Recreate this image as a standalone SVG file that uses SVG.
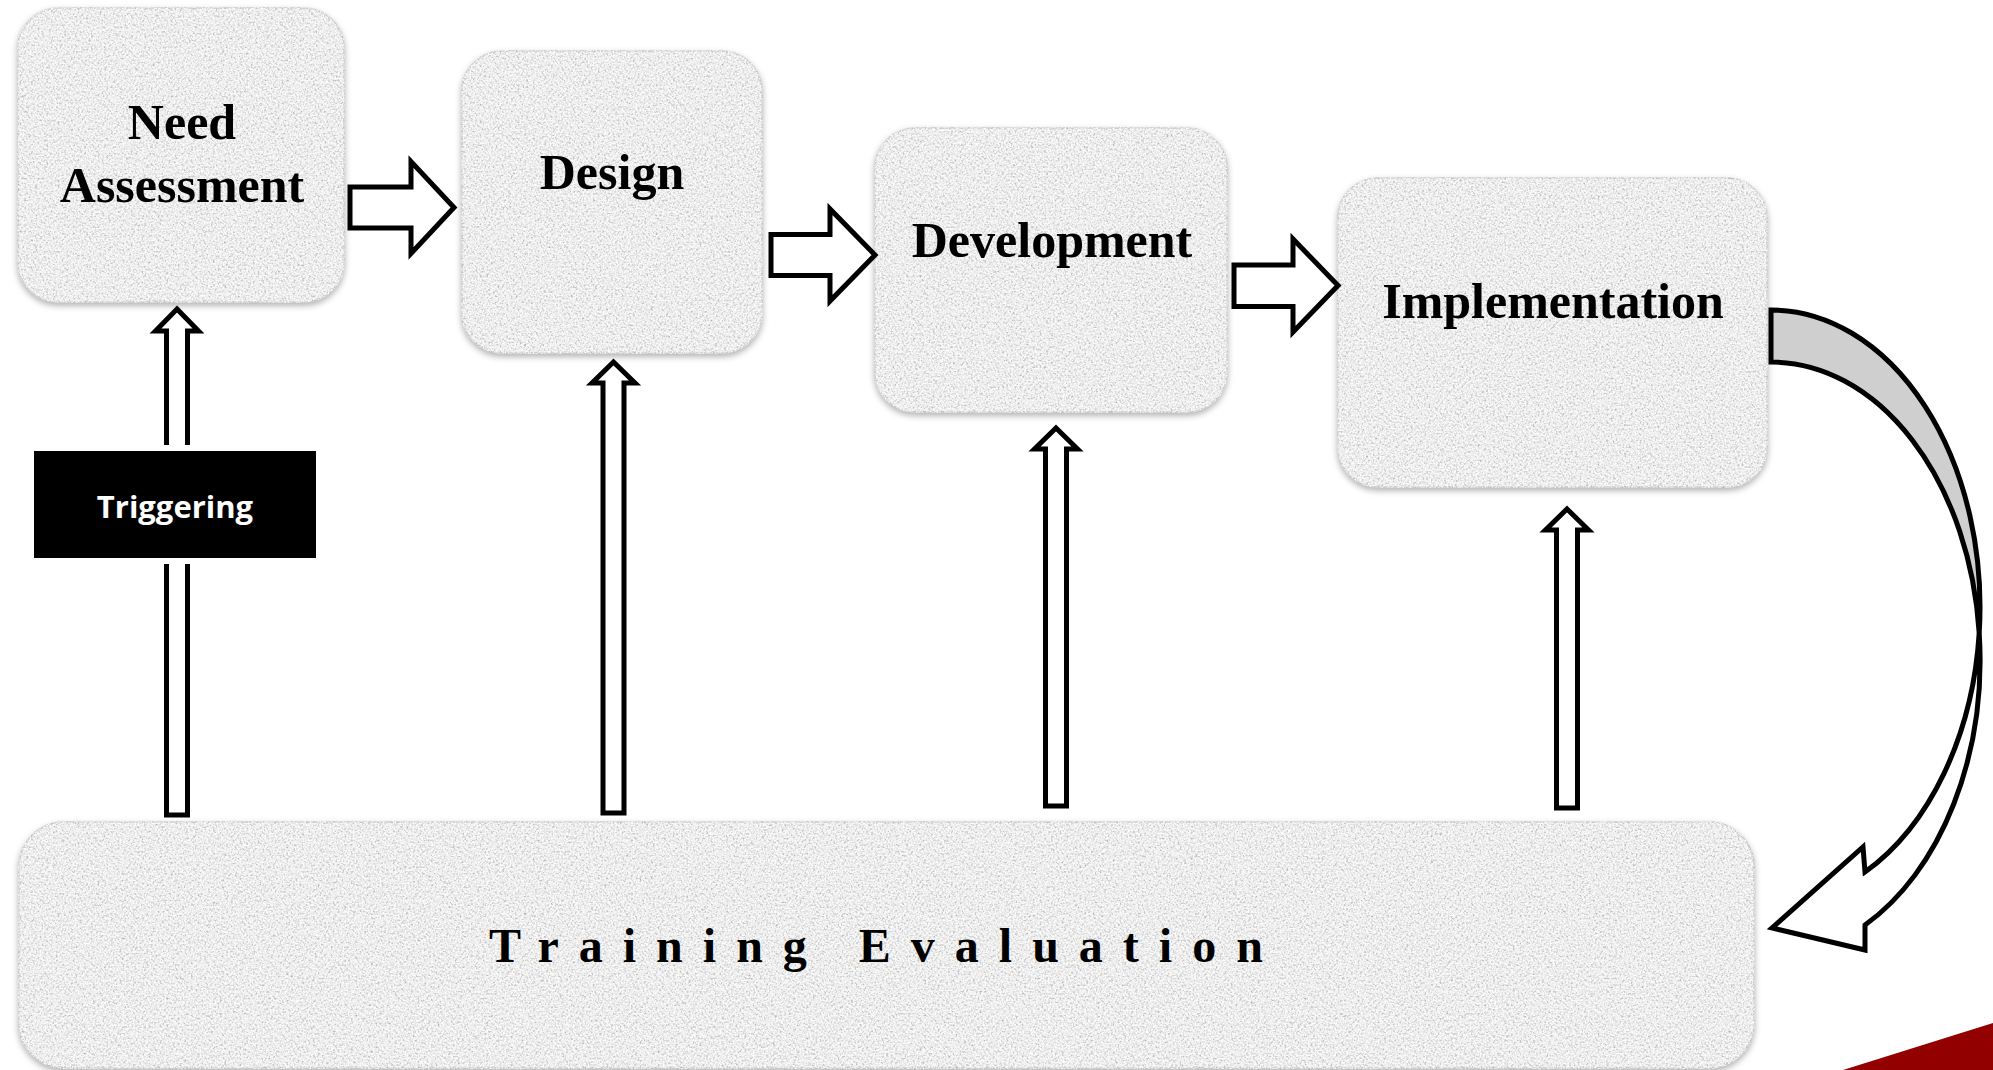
<svg xmlns="http://www.w3.org/2000/svg" width="1993" height="1070" viewBox="0 0 1993 1070">
<defs>
  <filter id="card" x="-3%" y="-3%" width="106%" height="112%" color-interpolation-filters="sRGB">
    <feGaussianBlur in="SourceAlpha" stdDeviation="3" result="b"/>
    <feOffset in="b" dx="0" dy="3" result="ob"/>
    <feFlood flood-color="#000" flood-opacity="0.3" result="f"/>
    <feComposite in="f" in2="ob" operator="in" result="shadow"/>
    <feTurbulence type="fractalNoise" baseFrequency="0.45" numOctaves="2" seed="7" result="n"/>
    <feColorMatrix in="n" type="matrix" values="0 0 0 0 0.7  0 0 0 0 0.7  0 0 0 0 0.7  2.4 0 0 0 -1.05" result="g"/>
    <feComposite in="g" in2="SourceAlpha" operator="in" result="t"/>
    <feTurbulence type="fractalNoise" baseFrequency="0.6" numOctaves="1" seed="21" result="n2"/>
    <feColorMatrix in="n2" type="matrix" values="0 0 0 0 1  0 0 0 0 1  0 0 0 0 1  3 0 0 0 -1.2" result="w"/>
    <feComposite in="w" in2="SourceAlpha" operator="in" result="tw"/>
    <feMerge><feMergeNode in="shadow"/><feMergeNode in="SourceGraphic"/><feMergeNode in="t"/><feMergeNode in="tw"/></feMerge>
  </filter>
</defs>
<style>
  .box { fill:#eeeeee; stroke:#d2d2d2; stroke-width:1.5; filter:url(#card); }
  .lbl { font-family:"Liberation Serif","Times New Roman",serif; font-weight:bold; font-size:50px; fill:#000; text-anchor:middle; }
  .conn { fill:#fff; stroke:#000; stroke-width:5; stroke-linejoin:miter; }
  .back { fill:#cfcfcf; stroke:#000; stroke-width:5; stroke-linejoin:miter; }
</style>
<rect width="1993" height="1070" fill="#fff"/>

<g id="need-assessment">
  <rect class="box" x="18" y="8" width="326" height="294" rx="40"/>
  <text class="lbl" x="182" y="139">Need</text>
  <text class="lbl" x="182" y="202">Assessment</text>
</g>
<g id="design">
  <rect class="box" x="462" y="51" width="300" height="302" rx="40"/>
  <text class="lbl" x="612" y="189">Design</text>
</g>
<g id="development">
  <rect class="box" x="875" y="128" width="352" height="284" rx="40"/>
  <text class="lbl" x="1052" y="257">Development</text>
</g>
<g id="implementation">
  <rect class="box" x="1338" y="178" width="429" height="309" rx="40"/>
  <text class="lbl" x="1553" y="318">Implementation</text>
</g>
<g id="training-evaluation">
  <rect class="box" x="19" y="822" width="1735" height="246" rx="45"/>
  <text class="lbl" x="489" y="962" style="text-anchor:start;font-size:48px;letter-spacing:20px">Training Evaluation</text>
</g>

<g id="connectors">
  <polygon class="conn" points="350,187 411,187 411,161.5 454,207.5 411,253.5 411,228 350,228"/>
  <polygon class="conn" points="771,234.5 830,234.5 830,209 875,255 830,301 830,275.5 771,275.5"/>
  <polygon class="conn" points="1234,265 1293,265 1293,239 1338,285.5 1293,332 1293,306.5 1234,306.5"/>
  <polygon class="conn" points="177,309 198.5,331 187.5,331 187.5,815 166.5,815 166.5,331 155.5,331"/>
  <polygon class="conn" points="613.5,362 635,383 624,383 624,813 603,813 603,383 592,383"/>
  <polygon class="conn" points="1056,428 1077.5,449 1066.5,449 1066.5,806 1045.5,806 1045.5,449 1034.5,449"/>
  <polygon class="conn" points="1567,509 1588.5,530 1577.5,530 1577.5,808 1556.5,808 1556.5,530 1545.5,530"/>
  <path class="back" d="M1771,310 A209,297 0 0 1 1979.2,633 A209,297 0 0 0 1771,362 Z"/>
  <path class="conn" d="M1979.2,633 A209,297 0 0 1 1865,872 L1863,847 L1772,928 L1865,950 L1865,925 A209,297 0 0 0 1979.2,633 Z"/>
</g>

<g id="triggering">
  <rect x="28" y="445" width="294" height="119" fill="#fff"/>
  <rect x="34" y="451" width="282" height="107" fill="#000"/>
  <text x="175" y="518" fill="#fff" text-anchor="middle" style="font-family:'Open Sans','Liberation Sans',sans-serif;font-weight:700;font-size:31px">Triggering</text>
</g>

<polygon points="1843,1070 1993,1023 1993,1070" fill="#920000"/>
</svg>
